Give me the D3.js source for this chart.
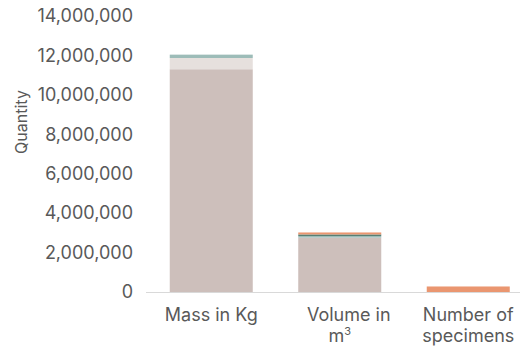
<!DOCTYPE html>
<html><head><meta charset="utf-8">
<script src="https://cdn.jsdelivr.net/npm/d3@7"></script>
<style>
html,body{margin:0;padding:0;background:#fff;}
text{font-family:Inter, "Noto Sans", sans-serif;fill:#595959;}
</style></head>
<body>
<svg id="c" width="531" height="351"></svg>
<script>
const categories = ["Mass in Kg", "Volume in m³", "Number of specimens"];
const categoryLines = [["Mass in Kg"], ["Volume in", "m³"], ["Number of", "specimens"]];
const seriesNames = ["Main", "Part B", "Part C", "Part D", "Part E"];
const seriesMain  = [11300000, 2760000, 0];
const seriesB     = [570000, 0, 0];
const seriesC     = [170000, 80000, 0];
const seriesD     = [0, 80000, 0];
const seriesE     = [0, 100000, 280000];
const seriesColors = ["#cdbfbb", "#e6e0dd", "#9dbcb8", "#577f73", "#ea9670"];
const yTicks = [0, 2000000, 4000000, 6000000, 8000000, 10000000, 12000000, 14000000];

const svg = d3.select("#c");
const x = d3.scaleBand().domain(categories).range([147, 532.5]).paddingInner(0.354).paddingOuter(0.177);
const y = d3.scaleLinear().domain([0, 14000000]).range([292, 16]);

const rows = categories.map((c, i) => ({cat: c, Main: seriesMain[i], "Part B": seriesB[i], "Part C": seriesC[i], "Part D": seriesD[i], "Part E": seriesE[i]}));
const stack = d3.stack().keys(seriesNames)(rows);

svg.append("g").selectAll("g").data(stack).join("g")
  .attr("fill", (d, i) => seriesColors[i])
  .selectAll("rect").data(d => d).join("rect")
  .attr("x", d => x(d.data.cat))
  .attr("width", x.bandwidth())
  .attr("y", d => y(d[1]))
  .attr("height", d => Math.max(0, y(d[0]) - y(d[1])));

// y axis
const ya = svg.append("g").attr("transform", "translate(133,0)")
  .call(d3.axisLeft(y).tickValues(yTicks).tickFormat(d3.format(",")).tickSize(0).tickPadding(0));
ya.select(".domain").remove();
ya.selectAll("text").style("font-size", "18px").attr("fill", "#595959");

// baseline
svg.append("line").attr("x1", 146).attr("x2", 520).attr("y1", y(0) + 0.5).attr("y2", y(0) + 0.5)
  .attr("stroke", "#d9d9d9").attr("stroke-width", 1);

// x axis
const xa = svg.append("g").attr("transform", `translate(0,${y(0)})`)
  .call(d3.axisBottom(x).tickSize(0).tickPadding(0));
xa.select(".domain").remove();
xa.selectAll("text").each(function(d, i) {
  const t = d3.select(this).text(null).attr("y", 0).attr("dy", null).style("font-size", "18px");
  categoryLines[i].forEach((ln, j) => {
    const ts = t.append("tspan").attr("x", (i === 1 && j === 0) ? 9 : 0).attr("y", 29 + j * 21);
    if (ln === "m³") {
      ts.text("m");
      t.append("tspan").attr("dy", -7).style("font-size", "11px").text("3");
    } else ts.text(ln);
  });
});

svg.append("text").attr("transform", "translate(27,122) rotate(-90)")
  .attr("text-anchor", "middle").style("font-size", "16px").text("Quantity");
</script>
</body></html>
